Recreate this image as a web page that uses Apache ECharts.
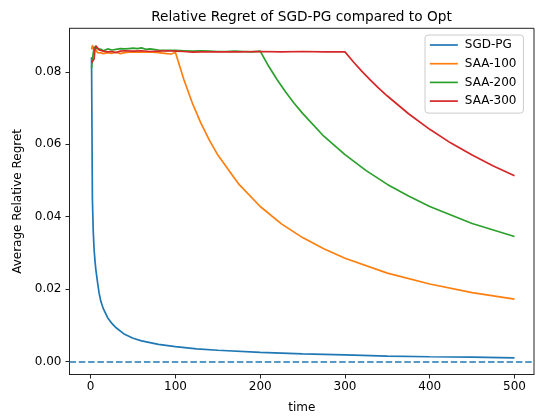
<!DOCTYPE html>
<html>
<head>
<meta charset="utf-8">
<script src="https://cdn.jsdelivr.net/npm/echarts@6/dist/echarts.min.js"></script>
<style>
  html, body { margin: 0; padding: 0; background: #fff; }
  #chart { width: 536px; height: 419px; }
</style>
</head>
<body>
<div id="chart"></div>
<script>
// Average relative regret over time for each method
const sgdTime = [1, 2, 3, 4, 5, 6, 8, 10, 12, 15, 20, 25, 30, 40, 50, 60, 80, 100, 125, 150, 200, 250, 300, 350, 400, 450, 500];
const sgdRegret = [0.084, 0.045, 0.036, 0.031, 0.028, 0.0255, 0.022, 0.0188, 0.0166, 0.0145, 0.0121, 0.0105, 0.0093, 0.0075, 0.0064, 0.0057, 0.0047, 0.0041, 0.0035, 0.0031, 0.0025, 0.0021, 0.0018, 0.0015, 0.0013, 0.0012, 0.0010];

const saa100Time = [1, 2, 3, 4, 5, 6, 8, 10, 12, 15, 20, 25, 30, 35, 40, 45, 50, 60, 70, 80, 90, 95, 100,
  110, 120, 130, 140, 150, 175, 200, 225, 250, 275, 300, 350, 400, 450, 500];
const saa100Regret = [0.0862, 0.0873, 0.0866, 0.0858, 0.0868, 0.0862, 0.0853, 0.0851, 0.0852, 0.0850, 0.0853, 0.0851, 0.0854, 0.0850, 0.0853, 0.0854, 0.0855, 0.0854, 0.0855, 0.0853, 0.0850, 0.0849, 0.0853,
  0.0778, 0.0713, 0.0658, 0.0611, 0.0570, 0.0489, 0.0428, 0.0380, 0.0342, 0.0311, 0.0285, 0.0244, 0.0214, 0.0190, 0.0172];

const saa200Time = [1, 2, 3, 4, 5, 6, 8, 10, 12, 15, 20, 25, 30, 35, 40, 45, 50, 55, 60, 65, 70, 80, 90, 100, 110, 120, 130, 140, 150, 160, 170, 180, 190, 200,
  210, 220, 230, 240, 250, 275, 300, 325, 350, 375, 400, 450, 500];
const saa200Regret = [0.0810, 0.0835, 0.0850, 0.0868, 0.0872, 0.0870, 0.0864, 0.0860, 0.0862, 0.0858, 0.0863, 0.0860, 0.0862, 0.0864, 0.0863, 0.0864, 0.0865, 0.0864, 0.0866, 0.0862, 0.0863, 0.0860, 0.0859, 0.0859, 0.0858, 0.0857, 0.0858, 0.0857, 0.0856, 0.0856, 0.0857, 0.0856, 0.0855, 0.0857,
  0.0815, 0.0778, 0.0744, 0.0713, 0.0685, 0.0622, 0.0571, 0.0527, 0.0489, 0.0457, 0.0428, 0.0381, 0.0345];

const saa300Time = [1, 2, 3, 4, 5, 6, 8, 10, 12, 15, 20, 25, 30, 35, 40, 50, 60, 70, 80, 90, 100, 110, 120, 130, 150, 175, 200, 225, 250, 275, 300,
  310, 320, 330, 340, 350, 375, 400, 425, 450, 475, 500];
const saa300Regret = [0.0825, 0.0828, 0.0830, 0.0835, 0.0860, 0.0872, 0.0866, 0.0860, 0.0858, 0.0857, 0.0855, 0.0856, 0.0853, 0.0857, 0.0858, 0.0857, 0.0858, 0.0856, 0.0857, 0.0858, 0.0857, 0.0856, 0.0854, 0.0855, 0.0855, 0.0855, 0.0856, 0.0855, 0.0856, 0.0855, 0.0855,
  0.0827, 0.0801, 0.0777, 0.0754, 0.0733, 0.0684, 0.0641, 0.0603, 0.0570, 0.0540, 0.0513];

const xTicks = [0, 100, 200, 300, 400, 500];
const yTicks = [0.00, 0.02, 0.04, 0.06, 0.08];

const seriesNames = ['SGD-PG', 'SAA-100', 'SAA-200', 'SAA-300'];
const seriesColors = ['#1f77b4', '#ff7f0e', '#2ca02c', '#d62728'];

const pairs = (t, v) => t.map((x, i) => [x, v[i]]);
const seriesData = [
  pairs(sgdTime, sgdRegret),
  pairs(saa100Time, saa100Regret),
  pairs(saa200Time, saa200Regret),
  pairs(saa300Time, saa300Regret)
];

const font = 'DejaVu Sans';
const textSize = 12;
const chart = echarts.init(document.getElementById('chart'), null, { renderer: 'canvas' });

const series = seriesNames.map((name, i) => ({
  name: name,
  type: 'line',
  data: seriesData[i],
  showSymbol: false,
  symbol: 'none',
  color: seriesColors[i],
  lineStyle: { width: 1.7, color: seriesColors[i] },
  emphasis: { disabled: true },
  z: 3 + i
}));

// dashed reference line at zero regret
series[0].markLine = {
  silent: true,
  symbol: 'none',
  label: { show: false },
  lineStyle: { color: '#1f77b4', width: 1.7, type: [6.5, 2.8] },
  data: [{ yAxis: 0 }]
};

chart.setOption({
  animation: false,
  backgroundColor: '#fff',
  title: {
    text: 'Relative Regret of SGD-PG compared to Opt',
    left: 296.5,
    textAlign: 'center',
    top: 5,
    textStyle: { fontFamily: font, fontSize: 13.7, fontWeight: 'normal', color: '#000' }
  },
  grid: {
    left: 69.5, top: 28.3, width: 464.5, height: 346.2,
    show: true, borderColor: '#222', borderWidth: 1, backgroundColor: 'transparent'
  },
  legend: {
    orient: 'vertical',
    left: 425, top: 35,
    padding: [4, 7, 6, 4],
    itemWidth: 28, itemHeight: 12, itemGap: 6.7,
    backgroundColor: 'rgba(255,255,255,0.8)',
    borderColor: '#cccccc', borderWidth: 1, borderRadius: 3,
    itemStyle: { opacity: 0 },
    lineStyle: { width: 1.7 },
    textStyle: { fontFamily: font, fontSize: textSize, color: '#000', padding: [0, 0, 0, 2] },
    data: seriesNames
  },
  xAxis: {
    type: 'value',
    min: -25, max: 523,
    name: 'time',
    nameLocation: 'middle',
    nameGap: 27,
    nameTextStyle: { fontFamily: font, fontSize: textSize, color: '#000' },
    axisLine: { show: true, onZero: false, lineStyle: { color: '#222', width: 1 } },
    axisTick: { show: true, length: 4, customValues: xTicks, lineStyle: { color: '#222', width: 1 } },
    axisLabel: { customValues: xTicks, margin: 6, fontFamily: font, fontSize: textSize, color: '#000' },
    splitLine: { show: false }
  },
  yAxis: {
    type: 'value',
    min: -0.0036, max: 0.0920,
    name: 'Average Relative Regret',
    nameLocation: 'middle',
    nameGap: 46,
    nameRotate: 90,
    nameTextStyle: { fontFamily: font, fontSize: textSize, color: '#000' },
    axisLine: { show: true, onZero: false, lineStyle: { color: '#222', width: 1 } },
    axisTick: { show: true, length: 4, customValues: yTicks, lineStyle: { color: '#222', width: 1 } },
    axisLabel: {
      customValues: yTicks, margin: 8, fontFamily: font, fontSize: textSize, color: '#000',
      formatter: v => v.toFixed(2)
    },
    splitLine: { show: false }
  },
  series: series
});
</script>
</body>
</html>
